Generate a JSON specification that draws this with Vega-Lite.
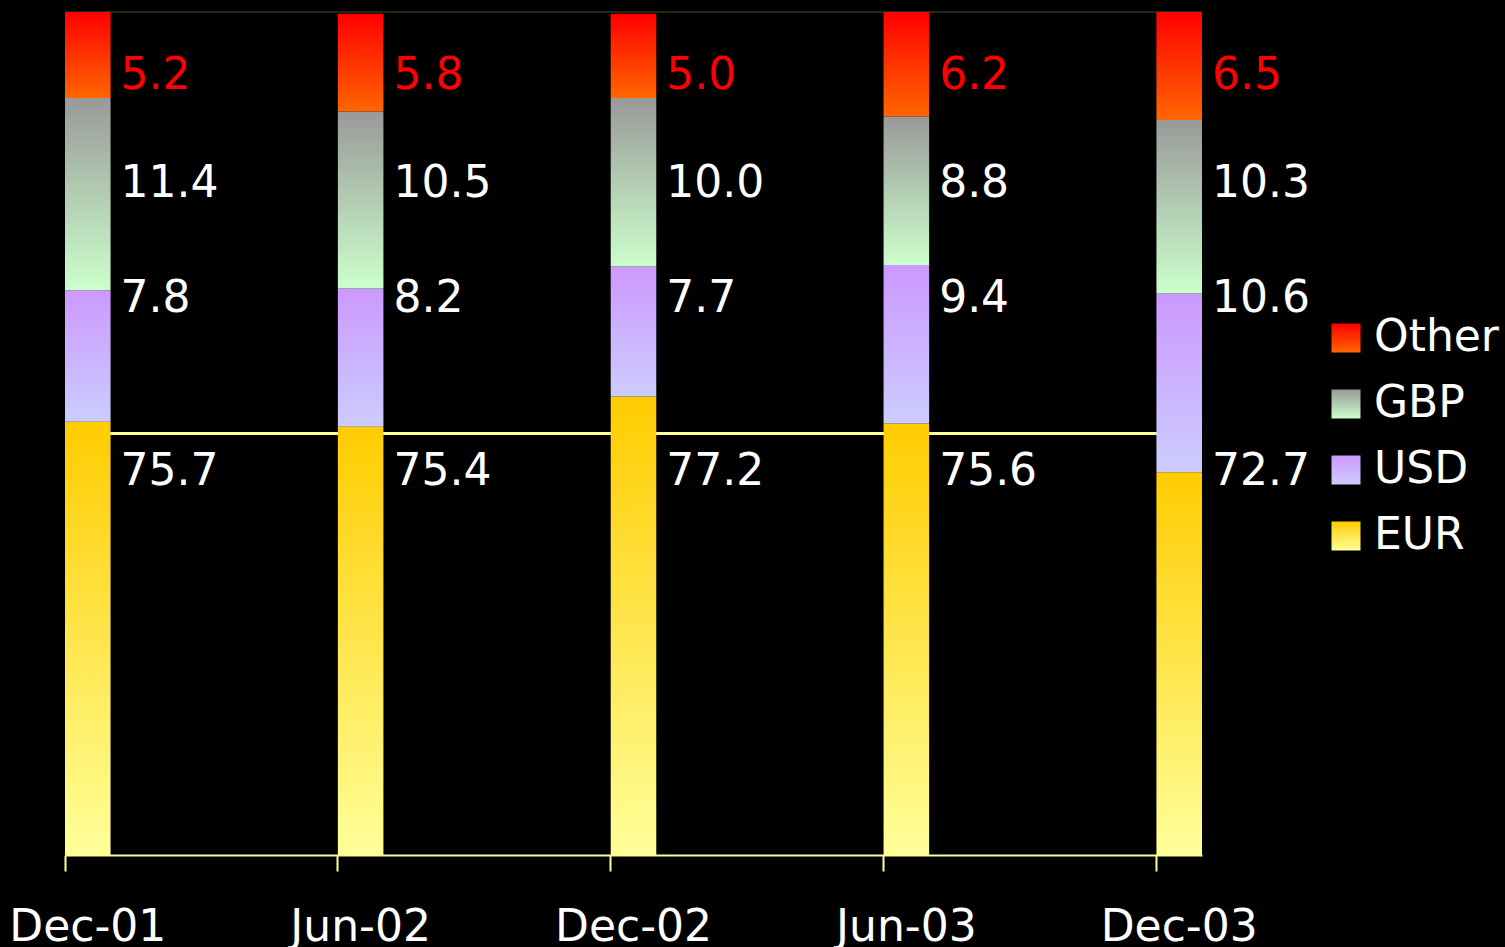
{
  "$schema": "https://vega.github.io/schema/vega-lite/v6.json",
  "width": 1137,
  "height": 843,
  "autosize": {"type": "none"},
  "padding": {"left": 65, "top": 12, "right": 303, "bottom": 92},
  "background": "black",
  "config": {
    "view": {"stroke": null},
    "font": "DejaVu Sans"
  },
  "data": {
    "values": [
      {"date": "Dec-01", "currency": "EUR", "k": 1, "value": 75.7},
      {"date": "Dec-01", "currency": "USD", "k": 2, "value": 7.8},
      {"date": "Dec-01", "currency": "GBP", "k": 3, "value": 11.4},
      {"date": "Dec-01", "currency": "Other", "k": 4, "value": 5.2},
      {"date": "Jun-02", "currency": "EUR", "k": 1, "value": 75.4},
      {"date": "Jun-02", "currency": "USD", "k": 2, "value": 8.2},
      {"date": "Jun-02", "currency": "GBP", "k": 3, "value": 10.5},
      {"date": "Jun-02", "currency": "Other", "k": 4, "value": 5.8},
      {"date": "Dec-02", "currency": "EUR", "k": 1, "value": 77.2},
      {"date": "Dec-02", "currency": "USD", "k": 2, "value": 7.7},
      {"date": "Dec-02", "currency": "GBP", "k": 3, "value": 10.0},
      {"date": "Dec-02", "currency": "Other", "k": 4, "value": 5.0},
      {"date": "Jun-03", "currency": "EUR", "k": 1, "value": 75.6},
      {"date": "Jun-03", "currency": "USD", "k": 2, "value": 9.4},
      {"date": "Jun-03", "currency": "GBP", "k": 3, "value": 8.8},
      {"date": "Jun-03", "currency": "Other", "k": 4, "value": 6.2},
      {"date": "Dec-03", "currency": "EUR", "k": 1, "value": 72.7},
      {"date": "Dec-03", "currency": "USD", "k": 2, "value": 10.6},
      {"date": "Dec-03", "currency": "GBP", "k": 3, "value": 10.3},
      {"date": "Dec-03", "currency": "Other", "k": 4, "value": 6.5}
    ]
  },
  "transform": [
    {"stack": "value", "groupby": ["date"], "sort": [{"field": "k", "order": "ascending"}], "as": ["y0", "y1"]}
  ],
  "layer": [
    {
      "mark": {"type": "rule", "color": "#1E2A12", "strokeWidth": 2},
      "encoding": {"y": {"datum": 100, "type": "quantitative", "scale": {"domain": [50, 100], "clamp": true}, "axis": null}}
    },
    {
      "mark": {"type": "rule", "color": "#FFFF99", "strokeWidth": 2},
      "encoding": {"y": {"datum": 75, "type": "quantitative"}}
    },
    {
      "mark": {"type": "bar"},
      "encoding": {
        "x": {
          "field": "date",
          "type": "nominal",
          "scale": {"domain": ["Dec-01", "Jun-02", "Dec-02", "Jun-03", "Dec-03"], "paddingInner": 0.833, "paddingOuter": 0},
          "axis": {
            "title": null,
            "labelAngle": 0,
            "bandPosition": 0,
            "labelFontSize": 44,
            "labelColor": "white",
            "labelPadding": 34,
            "domainColor": "#FFFF99",
            "domainWidth": 2,
            "tickColor": "#FFFF99",
            "tickWidth": 2,
            "tickSize": 16,
            "grid": false
          }
        },
        "y": {"field": "y1", "type": "quantitative"},
        "y2": {"field": "y0"},
        "color": {
          "field": "currency",
          "type": "nominal",
          "scale": {
            "domain": ["Other", "GBP", "USD", "EUR"],
            "range": [
              {"expr": "{gradient: 'linear', x1: 0, y1: 0, x2: 0, y2: 1, stops: [{offset: 0, color: '#FF0000'}, {offset: 1, color: '#FF6600'}]}"},
              {"expr": "{gradient: 'linear', x1: 0, y1: 0, x2: 0, y2: 1, stops: [{offset: 0, color: '#999999'}, {offset: 1, color: '#CCFFCC'}]}"},
              {"expr": "{gradient: 'linear', x1: 0, y1: 0, x2: 0, y2: 1, stops: [{offset: 0, color: '#CC99FF'}, {offset: 1, color: '#CCCCFF'}]}"},
              {"expr": "{gradient: 'linear', x1: 0, y1: 0, x2: 0, y2: 1, stops: [{offset: 0, color: '#FFCC00'}, {offset: 1, color: '#FFFF99'}]}"}
            ]
          },
          "legend": {
            "title": null,
            "orient": "none",
            "legendX": 1259,
            "legendY": 304,
            "symbolType": "square",
            "symbolSize": 841,
            "symbolStrokeWidth": 0,
            "symbolOpacity": 1,
            "labelFontSize": 44,
            "labelColor": "white",
            "labelOffset": 6,
            "rowPadding": 22
          }
        }
      }
    },
    {
      "transform": [{"filter": "datum.currency === 'Other'"}],
      "mark": {"type": "text", "align": "left", "baseline": "middle", "dx": 10, "fontSize": 44, "color": "#FF0000"},
      "encoding": {
        "x": {"field": "date", "type": "nominal", "bandPosition": 1},
        "y": {"datum": 96.2, "type": "quantitative"},
        "text": {"field": "value", "type": "quantitative", "format": ".1f"}
      }
    },
    {
      "transform": [{"filter": "datum.currency === 'GBP'"}],
      "mark": {"type": "text", "align": "left", "baseline": "middle", "dx": 10, "fontSize": 44, "color": "white"},
      "encoding": {
        "x": {"field": "date", "type": "nominal", "bandPosition": 1},
        "y": {"datum": 89.8, "type": "quantitative"},
        "text": {"field": "value", "type": "quantitative", "format": ".1f"}
      }
    },
    {
      "transform": [{"filter": "datum.currency === 'USD'"}],
      "mark": {"type": "text", "align": "left", "baseline": "middle", "dx": 10, "fontSize": 44, "color": "white"},
      "encoding": {
        "x": {"field": "date", "type": "nominal", "bandPosition": 1},
        "y": {"datum": 83.0, "type": "quantitative"},
        "text": {"field": "value", "type": "quantitative", "format": ".1f"}
      }
    },
    {
      "transform": [{"filter": "datum.currency === 'EUR'"}],
      "mark": {"type": "text", "align": "left", "baseline": "middle", "dx": 10, "fontSize": 44, "color": "white"},
      "encoding": {
        "x": {"field": "date", "type": "nominal", "bandPosition": 1},
        "y": {"datum": 72.7, "type": "quantitative"},
        "text": {"field": "value", "type": "quantitative", "format": ".1f"}
      }
    }
  ]
}
